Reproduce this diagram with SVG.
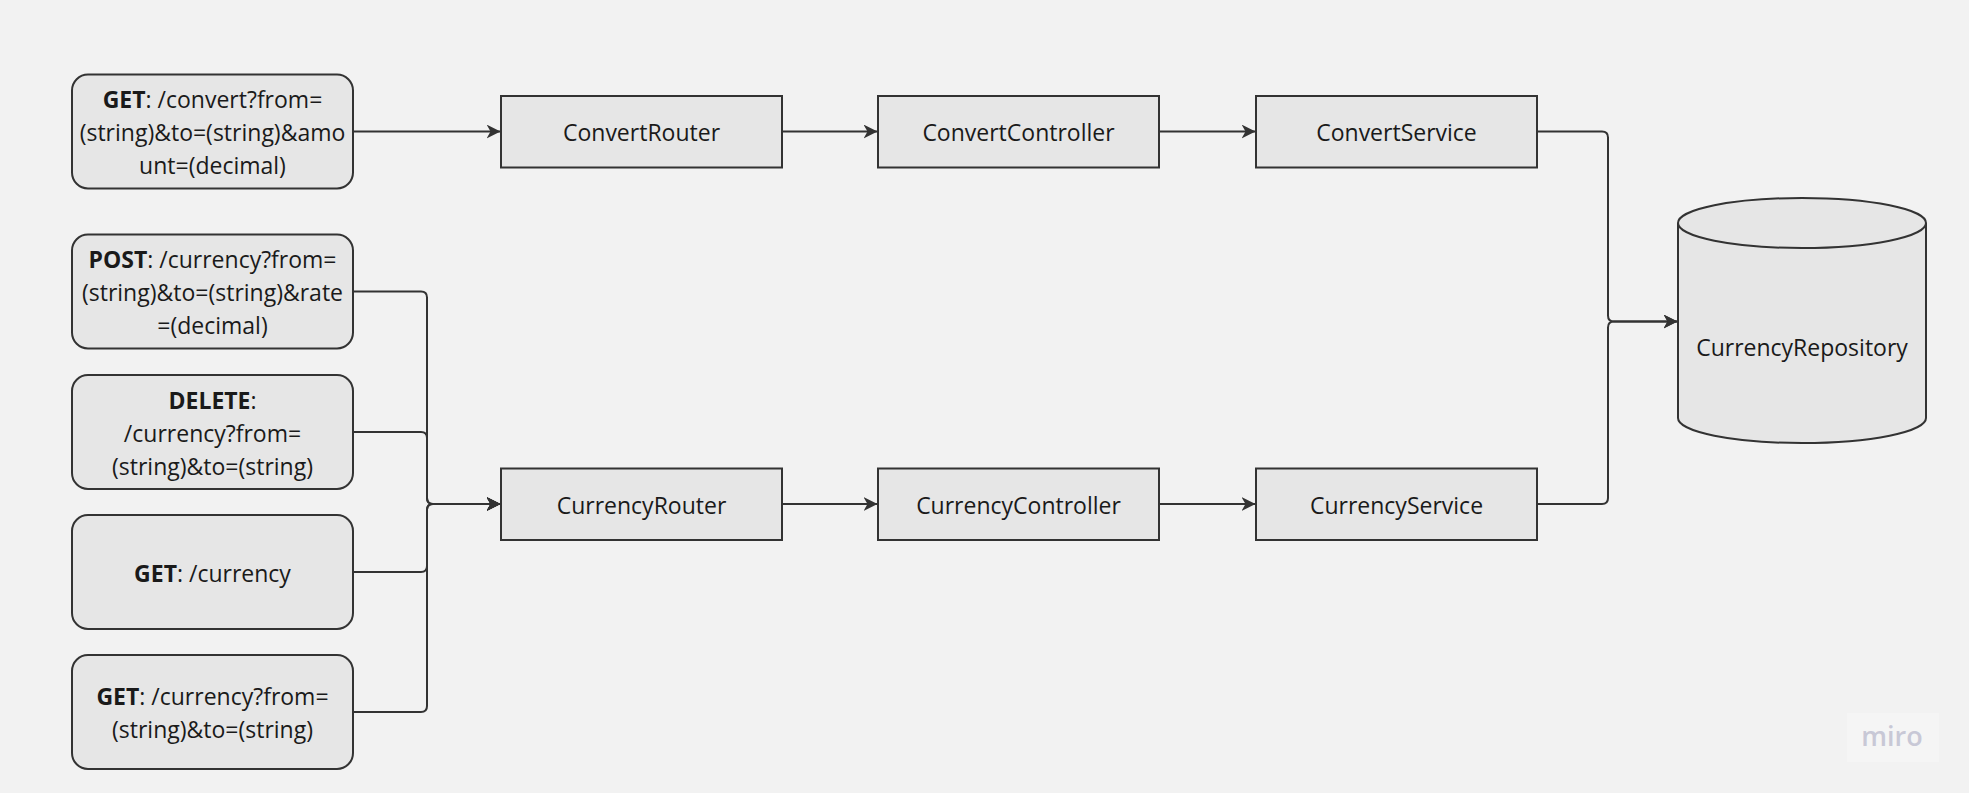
<svg xmlns="http://www.w3.org/2000/svg" width="1969" height="793" viewBox="0 0 1969 793">
<style>
.bg{fill:#f2f2f2}
.node{fill:#e6e6e6;stroke:#333333;stroke-width:2}
.t{font-family:"Open Sans","Noto Sans","Liberation Sans",sans-serif;font-size:23px;fill:#1a1a1a;text-anchor:middle}
.b{font-weight:700}
.conn{fill:none;stroke:#333333;stroke-width:2}
.wm{font-family:"Open Sans","Noto Sans","Liberation Sans",sans-serif;font-size:27px;font-weight:600;fill:#c8c8d6;text-anchor:middle}
</style>
<defs>
<marker id="arr" viewBox="0 0 14 14" markerWidth="14" markerHeight="14" refX="13.5" refY="7" orient="auto" markerUnits="userSpaceOnUse">
<path d="M0,0 L14,7 L0,14 L4,7 Z" fill="#333333"/>
</marker>
</defs>
<rect class="bg" x="0" y="0" width="1969" height="793"/>

<g id="connectors">
<path class="conn" d="M353,131.5 H500" marker-end="url(#arr)"/>
<path class="conn" d="M782,131.5 H877" marker-end="url(#arr)"/>
<path class="conn" d="M1159,131.5 H1255" marker-end="url(#arr)"/>
<path class="conn" d="M782,504 H877" marker-end="url(#arr)"/>
<path class="conn" d="M1159,504 H1255" marker-end="url(#arr)"/>
<path class="conn" d="M353,291.5 H421 Q427,291.5 427,297.5 V498 Q427,504 433,504 H500" marker-end="url(#arr)"/>
<path class="conn" d="M353,432 H421 Q427,432 427,438 V498 Q427,504 433,504 H500" marker-end="url(#arr)"/>
<path class="conn" d="M353,572 H421 Q427,572 427,566 V510 Q427,504 433,504 H500" marker-end="url(#arr)"/>
<path class="conn" d="M353,712 H421 Q427,712 427,706 V510 Q427,504 433,504 H500" marker-end="url(#arr)"/>
<path class="conn" d="M1537,131.5 H1602 Q1608,131.5 1608,137.5 V315.5 Q1608,321.5 1614,321.5 H1677" marker-end="url(#arr)"/>
<path class="conn" d="M1537,504 H1602 Q1608,504 1608,498 V327.5 Q1608,321.5 1614,321.5 H1677" marker-end="url(#arr)"/>
</g>

<g id="get-convert">
<rect class="node" x="72" y="74.5" width="281" height="114" rx="16"/>
<text class="t" x="212.5" y="108"><tspan class="b">GET</tspan>: /convert?from=</text>
<text class="t" x="212.5" y="141">(string)&amp;to=(string)&amp;amo</text>
<text class="t" x="212.5" y="174">unt=(decimal)</text>
</g>
<g id="post-currency">
<rect class="node" x="72" y="234.5" width="281" height="114" rx="16"/>
<text class="t" x="212.5" y="268"><tspan class="b">POST</tspan>: /currency?from=</text>
<text class="t" x="212.5" y="301">(string)&amp;to=(string)&amp;rate</text>
<text class="t" x="212.5" y="334">=(decimal)</text>
</g>
<g id="delete-currency">
<rect class="node" x="72" y="375" width="281" height="114" rx="16"/>
<text class="t" x="212.5" y="408.5"><tspan class="b">DELETE</tspan>:</text>
<text class="t" x="212.5" y="441.5">/currency?from=</text>
<text class="t" x="212.5" y="474.5">(string)&amp;to=(string)</text>
</g>
<g id="get-currency">
<rect class="node" x="72" y="515" width="281" height="114" rx="16"/>
<text class="t" x="212.5" y="581.5"><tspan class="b">GET</tspan>: /currency</text>
</g>
<g id="get-currency-pair">
<rect class="node" x="72" y="655" width="281" height="114" rx="16"/>
<text class="t" x="212.5" y="705"><tspan class="b">GET</tspan>: /currency?from=</text>
<text class="t" x="212.5" y="738">(string)&amp;to=(string)</text>
</g>

<g id="convert-router">
<rect class="node" x="501" y="96" width="281" height="71.5"/>
<text class="t" x="641.5" y="141">ConvertRouter</text>
</g>
<g id="convert-controller">
<rect class="node" x="878" y="96" width="281" height="71.5"/>
<text class="t" x="1018.5" y="141">ConvertController</text>
</g>
<g id="convert-service">
<rect class="node" x="1256" y="96" width="281" height="71.5"/>
<text class="t" x="1396.5" y="141">ConvertService</text>
</g>
<g id="currency-router">
<rect class="node" x="501" y="468.5" width="281" height="71.5"/>
<text class="t" x="641.5" y="513.5">CurrencyRouter</text>
</g>
<g id="currency-controller">
<rect class="node" x="878" y="468.5" width="281" height="71.5"/>
<text class="t" x="1018.5" y="513.5">CurrencyController</text>
</g>
<g id="currency-service">
<rect class="node" x="1256" y="468.5" width="281" height="71.5"/>
<text class="t" x="1396.5" y="513.5">CurrencyService</text>
</g>

<g id="currency-repository">
<path class="node" d="M1678,223 A124,25 0 0,1 1926,223 V418 A124,25 0 0,1 1678,418 Z"/>
<path class="node" d="M1678,223 A124,25 0 0,0 1926,223"/>
<text class="t" x="1802" y="356">CurrencyRepository</text>
</g>

<g id="watermark">
<rect x="1847" y="713" width="92" height="49" fill="#f5f5f5"/>
<text class="wm" x="1892" y="746">miro</text>
</g>
</svg>
